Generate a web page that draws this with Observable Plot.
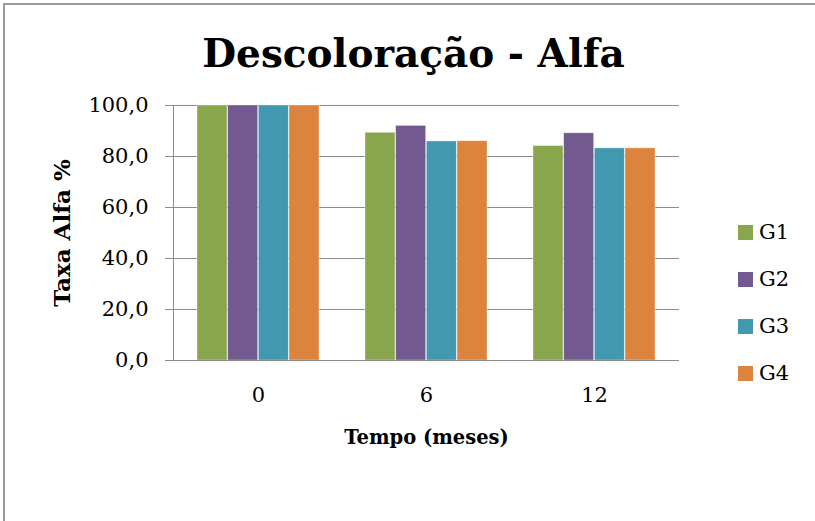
<!DOCTYPE html>
<html>
<head>
<meta charset="utf-8">
<script src="https://cdn.jsdelivr.net/npm/d3@7"></script>
<script src="https://cdn.jsdelivr.net/npm/@observablehq/plot@0.6"></script>
<style>
  html, body { margin: 0; padding: 0; background: #fff; overflow: hidden; }
  #wrap { position: relative; width: 815px; height: 521px; overflow: hidden; font-family: "DejaVu Serif", serif; }
  #border { position: absolute; left: 3px; top: 3px; width: 830px; height: 540px; border-left: 2px solid #9a9a9a; border-top: 2px solid #9a9a9a; }
  #title { position: absolute; left: 6px; top: 34px; width: 815px; text-align: center; font: bold 39px/1 "DejaVu Serif", serif; color: #000; }
  #chart { position: absolute; left: 0; top: 0; }
  #legend { position: absolute; left: 738px; top: 225px; }
  .item { display: flex; align-items: center; height: 15px; margin-bottom: 32px; font: 21px/1 "DejaVu Serif", serif; color: #000; }
  .sw { width: 15px; height: 15px; margin-right: 6px; }
</style>
</head>
<body>
<div id="wrap">
  <div id="border"></div>
  <div id="chart"></div>
  <div id="title"></div>
  <div id="legend"></div>
</div>
<script>
const title = "Descoloração - Alfa";
const yLabel = "Taxa Alfa %";
const xLabel = "Tempo (meses)";
const times = ["0", "6", "12"];
const series = ["G1", "G2", "G3", "G4"];
const colors = ["#8aa64d", "#72598f", "#4298af", "#dc843e"];
const g1 = [100, 89.3, 84.1];
const g2 = [100, 92.0, 89.1];
const g3 = [100, 85.9, 83.2];
const g4 = [100, 86.0, 83.2];
const yTicks = [0, 20, 40, 60, 80, 100];

const values = [g1, g2, g3, g4];
const data = [];
series.forEach((s, i) => times.forEach((t, j) => data.push({series: s, time: t, value: values[i][j]})));

const grid = "#8c8c8c";
const barW = 30.67;
const fmt = d => d.toFixed(1).replace(".", ",");

const marks = [
  Plot.ruleY(yTicks, {stroke: grid, strokeWidth: 1})
];
series.forEach((s, i) => {
  marks.push(Plot.barY(data.filter(d => d.series === s), {
    x: "time", y: "value", fill: colors[i],
    stroke: "white", strokeOpacity: 0.45, strokeWidth: 0.8,
    insetLeft: i * barW, insetRight: (3 - i) * barW
  }));
});
marks.push(
  Plot.ruleY([0], {stroke: grid, strokeWidth: 1}),
  Plot.frame({anchor: "left", stroke: grid, strokeWidth: 1}),
  Plot.axisY({ticks: yTicks, tickFormat: fmt, tickSize: 8, tickPadding: 17, stroke: grid, fill: "#000", label: null, fontSize: 21}),
  Plot.axisX({tickSize: 0, tickPadding: 27, label: null, fill: "#000", fontSize: 21}),
  Plot.text([yLabel], {frameAnchor: "left", textAnchor: "middle", lineAnchor: "middle", rotate: -90, dx: -111, fontWeight: "bold", fontSize: 23, fill: "#000"}),
  Plot.text([xLabel], {frameAnchor: "bottom", textAnchor: "middle", lineAnchor: "middle", dy: 77, fontWeight: "bold", fontSize: 19.5, fill: "#000"})
);

const chart = Plot.plot({
  width: 815,
  height: 521,
  marginLeft: 173,
  marginRight: 136,
  marginTop: 105,
  marginBottom: 161,
  style: {fontFamily: "DejaVu Serif", fontSize: "21px", color: "#000", background: "transparent"},
  x: {domain: times, paddingInner: 0.2727, paddingOuter: 0.13636, axis: null},
  y: {domain: [0, 100], axis: null},
  marks
});
document.getElementById("chart").appendChild(chart);
document.getElementById("title").textContent = title;

const legend = document.getElementById("legend");
series.forEach((s, i) => {
  const item = document.createElement("div");
  item.className = "item";
  const sw = document.createElement("div");
  sw.className = "sw";
  sw.style.background = colors[i];
  const lab = document.createElement("span");
  lab.textContent = s;
  item.appendChild(sw);
  item.appendChild(lab);
  legend.appendChild(item);
});
</script>
</body>
</html>
